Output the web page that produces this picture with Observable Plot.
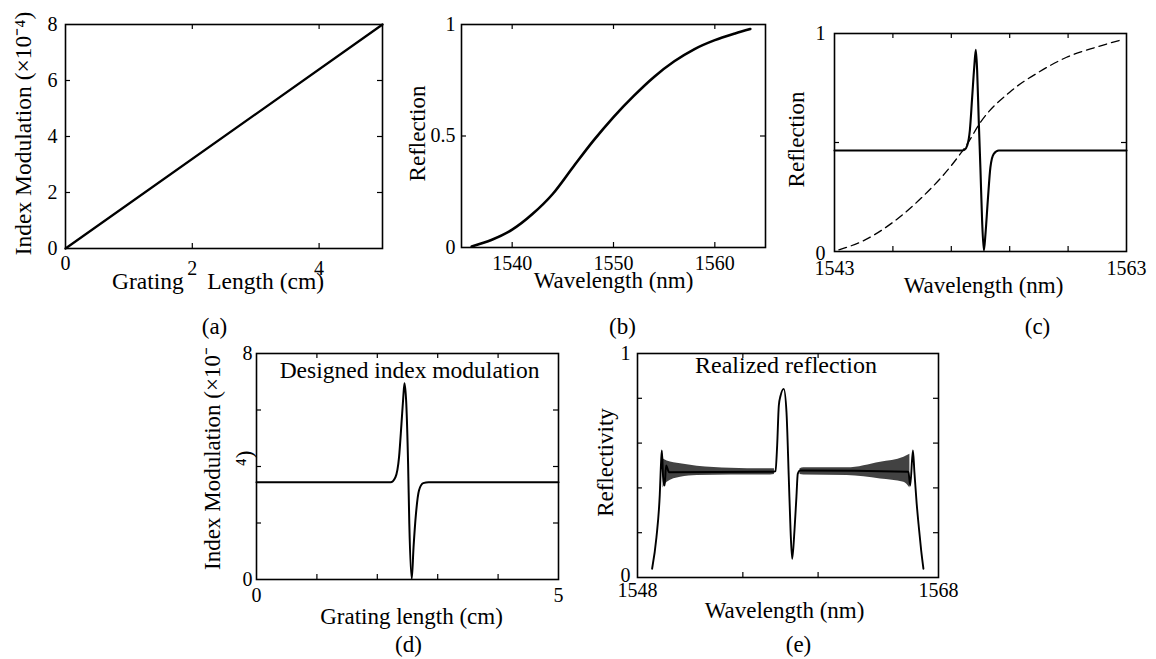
<!DOCTYPE html>
<html>
<head>
<meta charset="utf-8">
<script src="https://cdn.jsdelivr.net/npm/d3@7"></script>
<script src="https://cdn.jsdelivr.net/npm/@observablehq/plot@0.6"></script>
<style>
  html, body { margin: 0; padding: 0; background: #fff; }
  #fig { position: relative; width: 1156px; height: 659px; background: #fff; overflow: hidden; }
  #fig svg { position: absolute; background: transparent; overflow: visible; }
</style>
</head>
<body>
<div id="fig"></div>
<script>
// ---------- data ----------
// (a) linear index modulation
const aLength = [0, 5];
const aIndex = [0, 8];
const aXTicks = [2, 4];
const aYTicks = [2, 4, 6];

// (b) measured reflection
const bWavelength = [1536, 1538, 1540, 1542, 1544, 1546, 1548, 1550, 1552, 1554, 1556, 1558, 1560, 1562, 1563.5];
const bReflection = [0.005, 0.035, 0.08, 0.15, 0.24, 0.36, 0.478, 0.585, 0.68, 0.765, 0.835, 0.89, 0.93, 0.96, 0.98];
const bXTicks = [1540, 1550, 1560];
const bYTicks = [0.5];

// (c) target (solid) and original (dashed) reflection
const cSolidWl = [1543, 1551.7, 1551.9, 1552.09, 1552.27, 1552.43, 1552.57, 1552.68, 1552.77, 1552.88, 1553.0, 1553.11, 1553.23, 1553.34, 1553.5, 1553.68, 1553.91, 1554.25, 1563];
const cSolidR  = [0.463, 0.463, 0.466, 0.486, 0.555, 0.708, 0.845, 0.925, 0.83, 0.60, 0.37, 0.142, 0.005, 0.08, 0.234, 0.387, 0.448, 0.463, 0.463];
const cDashWl = [1543.3, 1545.0, 1547.0, 1549.0, 1551.0, 1552.1, 1553.0, 1555.0, 1557.0, 1558.9, 1560.9, 1562.5];
const cDashR  = [0.008, 0.05, 0.134, 0.249, 0.394, 0.494, 0.593, 0.731, 0.823, 0.891, 0.937, 0.968];
const cXTicks = [1547, 1551, 1555, 1559];
const cYTicks = [0.5];

// (d) designed index modulation
const dLength = [0, 2.22, 2.30, 2.36, 2.40, 2.43, 2.45, 2.48, 2.51, 2.53, 2.57, 2.60, 2.64, 2.69, 2.76, 2.85, 5];
const dIndex  = [3.44, 3.44, 3.62, 4.33, 5.51, 6.45, 6.95, 6.22, 4.09, 1.97, 0.02, 1.14, 2.32, 3.15, 3.41, 3.44, 3.44];
const dXTicks = [1, 2, 3, 4];
const dYTicks = [2, 4, 6];

// (e) realized reflection: main trace and ripple envelope
const eWl = [1548.97, 1549.26, 1549.48, 1549.57, 1549.62, 1549.7, 1549.8, 1549.9, 1550.1, 1557.0, 1557.17, 1557.28, 1557.39, 1557.5, 1557.72, 1557.9, 1558.05, 1558.17, 1558.28, 1558.43, 1558.56, 1558.65, 1558.8, 1566.0, 1566.12, 1566.3, 1566.4, 1566.55, 1566.7, 1566.85, 1567.0];
const eR  = [0.039, 0.18, 0.37, 0.52, 0.567, 0.45, 0.41, 0.50, 0.47, 0.472, 0.475, 0.59, 0.768, 0.81, 0.842, 0.738, 0.45, 0.21, 0.083, 0.21, 0.36, 0.463, 0.478, 0.472, 0.41, 0.567, 0.47, 0.33, 0.22, 0.12, 0.039];
const eBandWl  = [1549.7, 1549.97, 1550.86, 1551.97, 1554.2, 1556.84, 1557.1, 1558.8, 1559.05, 1561.93, 1564.15, 1565.7, 1566.1];
const eBandLo  = [0.40, 0.425, 0.448, 0.455, 0.458, 0.458, 0.46, 0.46, 0.458, 0.455, 0.44, 0.425, 0.40];
const eBandHi  = [0.53, 0.52, 0.508, 0.497, 0.488, 0.485, 0.485, 0.485, 0.49, 0.49, 0.515, 0.537, 0.55];
const eBandSeg = ["left", "left", "left", "left", "left", "left", "left", "right", "right", "right", "right", "right", "right"];
const eXTicks = [1555, 1560];
const eYTicks = [0.2, 0.4, 0.6, 0.8];

// ---------- helpers ----------
const FONT = "'Liberation Serif', 'Times New Roman', Times, serif";
const fig = document.getElementById("fig");
const fmt = d => String(d);
const pts = (xs, ys) => xs.map((x, i) => ({x, y: ys[i]}));

function innerTicks(xt, yt, W, H, len = 5) {
  const s = {stroke: "black", strokeWidth: 1.2};
  return [
    Plot.tickX(xt, {x: d => d, insetTop: H - len, ...s}),
    Plot.tickX(xt, {x: d => d, insetBottom: H - len, ...s}),
    Plot.tickY(yt, {y: d => d, insetRight: W - len, ...s}),
    Plot.tickY(yt, {y: d => d, insetLeft: W - len, ...s})
  ];
}

function panel(p) {
  const W = p.width - p.ml - p.mr, H = p.height - p.mt - p.mb;
  const svg = Plot.plot({
    width: p.width, height: p.height,
    marginTop: p.mt, marginRight: p.mr, marginBottom: p.mb, marginLeft: p.ml,
    x: {domain: p.xDomain},
    y: {domain: p.yDomain},
    style: {fontFamily: FONT, fontSize: "20px", color: "black", background: "transparent", overflow: "visible"},
    marks: [
      ...p.marks,
      ...innerTicks(p.xTicks, p.yTicks, W, H),
      Plot.frame({stroke: "black", strokeWidth: 1.6}),
      ...p.labels
    ]
  });
  svg.style.left = p.left + "px";
  svg.style.top = p.top + "px";
  fig.append(svg);
}

const xLabel = (t, dx, dy, fs = 23) => Plot.text([t], {text: d => d, frameAnchor: "bottom", lineAnchor: "middle", textAnchor: "middle", dx, dy, fontSize: fs, fill: "black"});
const yLabel = (t, dx, dy, fs = 23, extra = {}) => Plot.text([t], {text: d => d, frameAnchor: "left", lineAnchor: "middle", textAnchor: "middle", rotate: -90, dx, dy, fontSize: fs, fill: "black", ...extra});
const title = (t, dx, dy, fs = 23.5) => Plot.text([t], {text: d => d, frameAnchor: "top", lineAnchor: "middle", textAnchor: "middle", dx, dy, fontSize: fs, fill: "black"});
const tag = (t, dx, dy) => Plot.text([t], {text: d => d, frameAnchor: "bottom", lineAnchor: "middle", textAnchor: "middle", dx, dy, fontSize: 23, fill: "black"});
const xNums = (vals, pad, extra = {}) => Plot.axisX(vals, {anchor: "bottom", tickSize: 0, tickPadding: pad, tickFormat: fmt, label: null, fontSize: 20, ...extra});
const yNums = (vals, pad, extra = {}) => Plot.axisY(vals, {anchor: "left", tickSize: 0, tickPadding: pad, tickFormat: fmt, label: null, fontSize: 20, ...extra});

// ---------- (a) ----------
panel({
  left: 0, top: 0, width: 390, height: 340, mt: 24, mr: 8, mb: 92, ml: 65,
  xDomain: [0, 5], yDomain: [0, 8], xTicks: aXTicks, yTicks: aYTicks,
  marks: [
    Plot.line(pts(aLength, aIndex), {x: "x", y: "y", stroke: "black", strokeWidth: 2.3})
  ],
  labels: [
    xNums([0], 7.5),
    xNums(aXTicks, 12.5),
    yNums([0, 2, 4, 6, 8], 8),
    xLabel("Grating\u2003Length (cm)", -6, 33, 23.5),
    yLabel("Index Modulation (×10⁻⁴)", -42.5, -3, 23.5),
    tag("(a)", -9.5, 78)
  ]
});

// ---------- (b) ----------
panel({
  left: 390, top: 0, width: 390, height: 340, mt: 24, mr: 15, mb: 93, ml: 71,
  xDomain: [1535, 1565], yDomain: [0, 1], xTicks: bXTicks, yTicks: bYTicks,
  marks: [
    Plot.line(pts(bWavelength, bReflection), {x: "x", y: "y", stroke: "black", strokeWidth: 2.6, curve: "monotone-x"})
  ],
  labels: [
    xNums(bXTicks, 8),
    yNums([0, 0.5, 1], 6),
    xLabel("Wavelength (nm)", 0, 33.5),
    yLabel("Reflection", -44, -2.5),
    tag("(b)", 9, 79)
  ]
});

// ---------- (c) ----------
panel({
  left: 780, top: 0, width: 376, height: 340, mt: 33, mr: 30, mb: 89, ml: 54,
  xDomain: [1543, 1563], yDomain: [0, 1], xTicks: cXTicks, yTicks: cYTicks,
  marks: [
    Plot.line(pts(cDashWl, cDashR), {x: "x", y: "y", stroke: "black", strokeWidth: 1.3, strokeDasharray: "8,5", curve: "monotone-x"}),
    Plot.line(pts(cSolidWl, cSolidR), {x: "x", y: "y", stroke: "black", strokeWidth: 2.1, curve: "monotone-x"})
  ],
  labels: [
    xNums([1543, 1563], 9.5),
    yNums([1], 9),
    yNums([0], 9, {dy: 2}),
    xLabel("Wavelength (nm)", 3, 34),
    yLabel("Reflection", -38, -3),
    tag("(c)", 57, 75)
  ]
});

// ---------- (d) ----------
panel({
  left: 190, top: 330, width: 390, height: 329, mt: 23, mr: 22, mb: 80, ml: 66,
  xDomain: [0, 5], yDomain: [0, 8], xTicks: dXTicks, yTicks: dYTicks,
  marks: [
    Plot.line(pts(dLength, dIndex), {x: "x", y: "y", stroke: "black", strokeWidth: 2, curve: "monotone-x"})
  ],
  labels: [
    xNums([0, 5], 8.5),
    yNums([0, 8], 4),
    xLabel("Grating length (cm)", 4, 37),
    yLabel("Index Modulation (×10⁻\n⁴)", -30.5, -8, 23, {lineHeight: 1.4}),
    title("Designed index modulation", 2, 17),
    tag("(d)", 1, 65)
  ]
});

// ---------- (e) ----------
panel({
  left: 580, top: 330, width: 400, height: 329, mt: 23, mr: 42, mb: 82, ml: 57,
  xDomain: [1548, 1568], yDomain: [0, 1], xTicks: eXTicks, yTicks: eYTicks,
  marks: [
    Plot.areaY(eBandWl.map((x, i) => ({x, lo: eBandLo[i], hi: eBandHi[i], seg: eBandSeg[i]})),
      {x: "x", y1: "lo", y2: "hi", z: "seg", fill: "#2e2e2e", fillOpacity: 0.9, curve: "monotone-x"}),
    Plot.line(pts(eWl, eR), {x: "x", y: "y", stroke: "black", strokeWidth: 1.9, curve: "monotone-x"})
  ],
  labels: [
    xNums([1548, 1568], 5.5),
    yNums([1], 7),
    yNums([0], 7, {dy: -2}),
    xLabel("Wavelength (nm)", -3.5, 33),
    yLabel("Reflectivity", -32, -3),
    title("Realized reflection", -2, 12, 24),
    tag("(e)", 10.5, 67)
  ]
});
</script>
</body>
</html>
